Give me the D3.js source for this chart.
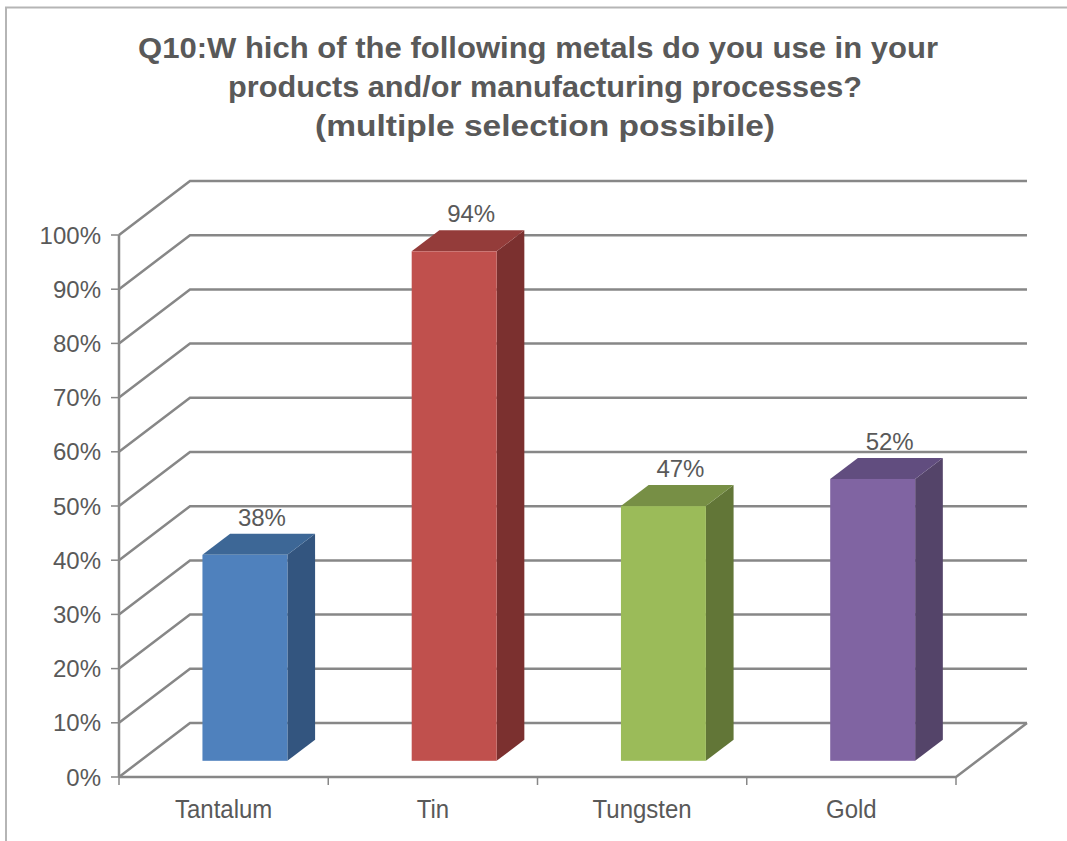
<!DOCTYPE html>
<html>
<head>
<meta charset="utf-8">
<script src="https://cdn.jsdelivr.net/npm/d3@7"></script>
<style>
  body { margin: 0; background: #fff; }
  svg { display: block; }
</style>
</head>
<body>
<div id="grafico"></div>
<script>
const categorias = ["Tantalum", "Tin", "Tungsten", "Gold"];
const valores = [0.38, 0.94, 0.47, 0.52];
const rotulos = ["38%", "94%", "47%", "52%"];
const ticksY = [0, 0.1, 0.2, 0.3, 0.4, 0.5, 0.6, 0.7, 0.8, 0.9, 1];
const titulo = [
  "Q10:W hich of the following metals do you use in your",
  "products and/or manufacturing processes?",
  "(multiple selection possibile)",
];
const coresFrente = ["#4f81bd", "#c0504d", "#9bbb59", "#8064a2"];
const coresTopo = ["#3d6796", "#943c3a", "#778f45", "#614d7f"];
const coresLado = ["#33557f", "#7b302f", "#627637", "#544469"];

const width = 1067;
const height = 841;
const fonte = "'Liberation Sans', Arial, sans-serif";
const corTexto = "#595959";
const corGrade = "#878787";

// profundidade do "3D"
const profX = 71;
const profY = -54;
const barraIni = 0.3; // fracao da profundidade onde a barra comeca
const barraProf = 0.39;

const svg = d3
  .select("#grafico")
  .append("svg")
  .attr("width", width)
  .attr("height", height);

// moldura
svg
  .append("rect")
  .attr("x", 6)
  .attr("y", 7.5)
  .attr("width", width + 10)
  .attr("height", height + 10)
  .attr("fill", "#fff")
  .attr("stroke", "#b5b5b5")
  .attr("stroke-width", 2);

const x = d3.scaleBand().domain(categorias).range([119, 956]);
const y = d3.scaleLinear().domain([0, 1]).range([777, 235]);
const xFim = 956;

// titulo (largura de cada linha ajustada ao original)
const larguraTitulo = [800, 634, 460];
const centroTitulo = [538, 545, 545];
svg
  .append("g")
  .selectAll("text")
  .data(titulo)
  .enter()
  .append("text")
  .attr("x", (d, i) => centroTitulo[i])
  .attr("y", (d, i) => 58 + i * 39)
  .attr("text-anchor", "middle")
  .attr("font-family", fonte)
  .attr("font-weight", "bold")
  .attr("font-size", 29)
  .attr("textLength", (d, i) => larguraTitulo[i])
  .attr("lengthAdjust", "spacingAndGlyphs")
  .attr("fill", corTexto)
  .text((d) => d);

// grade da parede do fundo
const grade = svg.append("g").attr("fill", "none").attr("stroke", corGrade).attr("stroke-width", 2.5);

grade
  .selectAll("path")
  .data(ticksY)
  .enter()
  .append("path")
  .attr("d", (t) => {
    const x0 = x.range()[0];
    const yy = y(t);
    return `M${x0},${yy}L${x0 + profX},${yy + profY}L${xFim + profX},${yy + profY}`;
  });

// piso
grade
  .append("path")
  .attr("d", `M${x.range()[0]},${y(0)}L${xFim},${y(0)}L${xFim + profX},${y(0) + profY}`);

// eixo vertical
grade
  .append("line")
  .attr("x1", x.range()[0])
  .attr("x2", x.range()[0])
  .attr("y1", y(1))
  .attr("y2", y(0));

// marcas do eixo y
grade
  .selectAll(".tick-y")
  .data(ticksY)
  .enter()
  .append("line")
  .attr("class", "tick-y")
  .attr("stroke-width", 1.5)
  .attr("x1", x.range()[0] - 8)
  .attr("x2", x.range()[0])
  .attr("y1", (t) => y(t))
  .attr("y2", (t) => y(t));

// marcas do eixo x
const limites = categorias.map((c) => x(c)).concat([xFim]);
grade
  .selectAll(".tick-x")
  .data(limites)
  .enter()
  .append("line")
  .attr("class", "tick-x")
  .attr("stroke-width", 1.5)
  .attr("x1", (d) => d)
  .attr("x2", (d) => d)
  .attr("y1", y(0))
  .attr("y2", y(0) + 8);

// rotulos eixo y
svg
  .append("g")
  .selectAll("text")
  .data(ticksY)
  .enter()
  .append("text")
  .attr("x", 101)
  .attr("y", (t) => y(t))
  .attr("dy", "0.36em")
  .attr("text-anchor", "end")
  .attr("font-family", fonte)
  .attr("font-size", 24)
  .attr("fill", corTexto)
  .text((t) => Math.round(t * 100) + "%");

// rotulos eixo x
svg
  .append("g")
  .selectAll("text")
  .data(categorias)
  .enter()
  .append("text")
  .attr("transform", (d) => `translate(${x(d) + x.bandwidth() / 2},818) scale(1,1.1)`)
  .attr("text-anchor", "middle")
  .attr("font-family", fonte)
  .attr("font-size", 24)
  .attr("fill", corTexto)
  .text((d) => d);

// barras
const larguraBarra = x.bandwidth() * 0.406;
const dx0 = profX * barraIni;
const dy0 = profY * barraIni;
const bdx = profX * barraProf;
const bdy = profY * barraProf;

const barras = svg
  .append("g")
  .selectAll("g")
  .data(categorias)
  .enter()
  .append("g")
  .attr("class", "barra");

barras.each(function (c, i) {
  const g = d3.select(this);
  const x0 = x(c) + x.bandwidth() / 2 - larguraBarra / 2 + dx0;
  const x1 = x0 + larguraBarra;
  const yb = y(0) + dy0;
  const yt = y(valores[i]) + dy0;

  g.append("path")
    .attr("d", `M${x1},${yb}L${x1 + bdx},${yb + bdy}L${x1 + bdx},${yt + bdy}L${x1},${yt}Z`)
    .attr("fill", coresLado[i]);

  g.append("path")
    .attr("d", `M${x0},${yt}L${x0 + bdx},${yt + bdy}L${x1 + bdx},${yt + bdy}L${x1},${yt}Z`)
    .attr("fill", coresTopo[i]);

  g.append("rect")
    .attr("x", x0)
    .attr("y", yt)
    .attr("width", larguraBarra)
    .attr("height", yb - yt)
    .attr("fill", coresFrente[i]);

  g.append("text")
    .attr("x", (x0 + x1) / 2 + 17)
    .attr("y", yt + bdy - 8)
    .attr("text-anchor", "middle")
    .attr("font-family", fonte)
    .attr("font-size", 24)
    .attr("fill", corTexto)
    .text(rotulos[i]);
});
</script>
</body>
</html>
